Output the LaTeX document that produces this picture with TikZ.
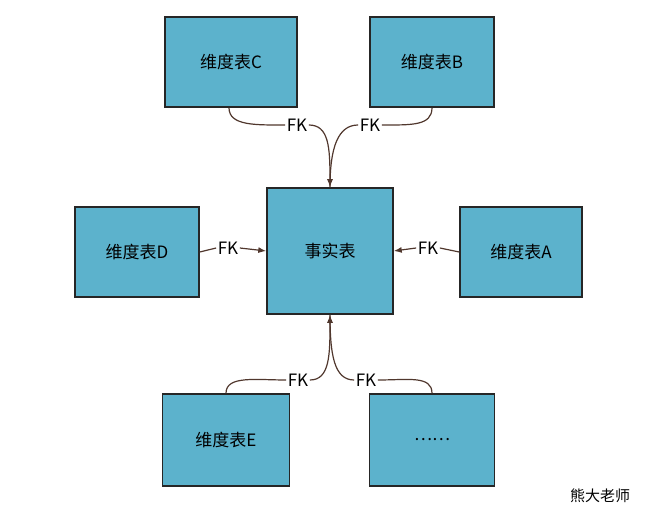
\documentclass[tikz,border=0pt]{standalone}
\usepackage{fontspec}
\setmainfont{Noto Sans CJK SC}
\usetikzlibrary{arrows.meta}
\definecolor{boxfill}{RGB}{92,178,204}
\definecolor{linkcol}{RGB}{80,55,45}
\tikzstyle{table}=[draw=black!85,line width=1.5pt,fill=boxfill,inner sep=0pt,font=\fontsize{17}{20}\selectfont]
\tikzstyle{fk}=[inner sep=1.5pt,font=\fontsize{17}{20}\selectfont,fill=white]
\begin{document}
\begin{tikzpicture}[x=1pt,y=-1pt,>={Latex[length=8pt,width=6pt]}]
    \useasboundingbox (0,0) rectangle (651,516);
    % tables
    \node (fact) [table,minimum width=126pt,minimum height=126pt] at (330,251) {事实表};
    \node (dimC) [table,minimum width=132pt,minimum height=90pt] at (231,62) {维度表C};
    \node (dimB) [table,minimum width=124pt,minimum height=90pt] at (432,62) {维度表B};
    \node (dimD) [table,minimum width=124pt,minimum height=90pt] at (137,252) {维度表D};
    \node (dimA) [table,minimum width=122pt,minimum height=90pt] at (521,252) {维度表A};
    \node (dimE) [table,minimum width=127pt,minimum height=92pt] at (226,440) {维度表E};
    \node (dimX) [table,minimum width=125pt,minimum height=92pt] at (432,440) {……};
    % foreign keys
    \node (fkC) [fk] at (297,125) {FK};
    \node (fkB) [fk] at (370,125) {FK};
    \node (fkD) [fk] at (228,248) {FK};
    \node (fkA) [fk] at (428,248) {FK};
    \node (fkE) [fk] at (298,380) {FK};
    \node (fkX) [fk] at (366,380) {FK};
    % links
    \begin{scope}[draw=linkcol,line width=1.2pt]
    \draw ([xshift=-2pt]dimC.south) .. controls +(0,18) and +(-30,0) .. (fkC.west);
    \draw[->] (fkC.east) .. controls +(20,0) and +(0,-40) .. (fact.north);
    \draw (dimB.south) .. controls +(0,18) and +(30,0) .. (fkB.east);
    \draw (fkB.west) .. controls +(-20,0) and +(0,-40) .. (fact.north);
    \draw (dimD.east) -- (fkD.west);
    \draw[->] (fkD.east) -- (fact.west);
    \draw (dimA.west) -- (fkA.east);
    \draw[->] (fkA.west) -- (fact.east);
    \draw (dimE.north) .. controls +(0,-18) and +(-30,0) .. (fkE.west);
    \draw[->] (fkE.east) .. controls +(20,0) and +(0,40) .. (fact.south);
    \draw (dimX.north) .. controls +(0,-18) and +(30,0) .. (fkX.east);
    \draw (fkX.west) .. controls +(-20,0) and +(0,40) .. (fact.south);
    \end{scope}
    \node (mark) [font=\fontsize{15}{18}\selectfont] at (600,496) {熊大老师};
\end{tikzpicture}
\end{document}
